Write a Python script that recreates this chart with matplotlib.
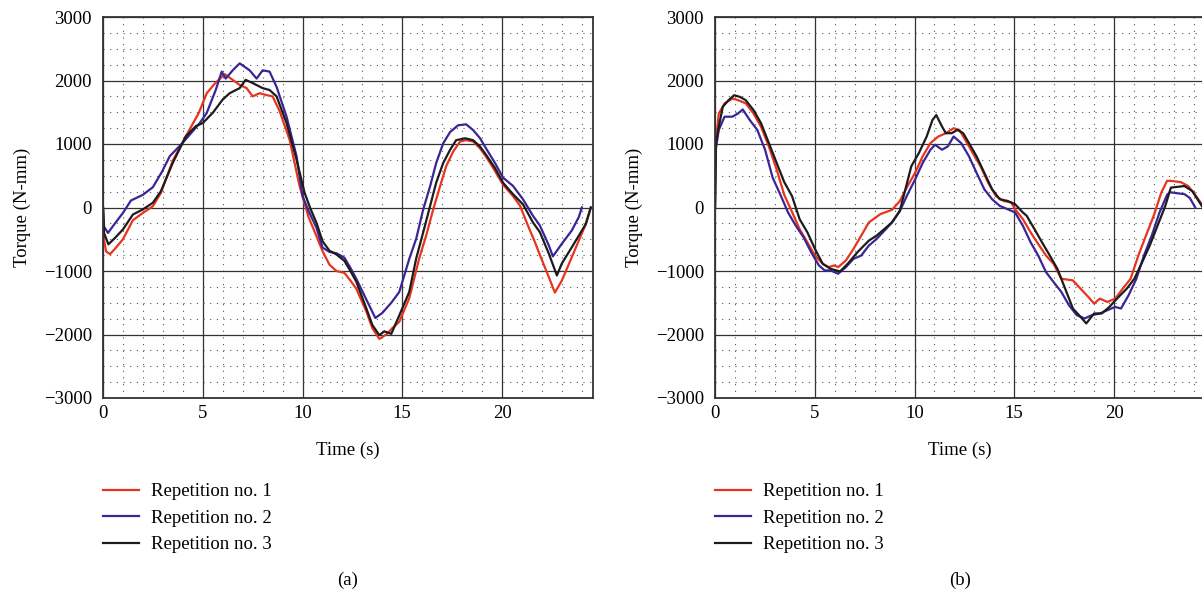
import numpy as np
import matplotlib.pyplot as plt
from matplotlib.ticker import MultipleLocator

plt.rcParams['font.family'] = ['Liberation Serif', 'DejaVu Serif']
plt.rcParams['font.size'] = 13.5

# ---- panel (a) ----
a_t1 = [0, 0.05, 0.15, 0.35, 0.6, 1.0, 1.5, 2.0, 2.5, 2.9, 3.5, 4.15, 4.8, 5.2, 5.6, 6.1, 6.5, 6.85,
        7.2, 7.5, 7.85, 8.2, 8.5, 8.85, 9.35, 9.85, 10.3, 10.7, 11.0, 11.35, 11.7, 12.1, 12.4, 12.7,
        13.2, 13.5, 13.85, 14.2, 14.5, 14.85, 15.35, 15.85, 16.2, 16.55, 16.9, 17.2, 17.55, 17.9,
        18.2, 18.55, 18.9, 19.2, 19.6, 20.05, 20.55, 20.9, 21.3, 21.65, 21.9, 22.35, 22.65, 23.0,
        23.5, 23.85, 24.2, 24.45]
a_v1 = [0, -500, -690, -735, -650, -500, -200, -85, 20, 230, 740, 1120, 1490, 1800, 1950, 2100, 2010, 1930,
        1880, 1750, 1800, 1770, 1750, 1520, 1070, 340, -150, -450, -685, -900, -1000, -1030, -1150, -1280,
        -1640, -1900, -2070, -2000, -1900, -1800, -1430, -800, -440, -30, 340, 650, 880, 1040,
        1060, 1040, 930, 800, 600, 360, 180, 30, -285, -545, -750, -1100, -1340, -1150,
        -780, -520, -260, 0]

a_t2 = [0, 0.05, 0.25, 0.6, 1.0, 1.4, 2.0, 2.5, 2.95, 3.35, 4.0, 4.85, 5.2, 5.65, 5.95, 6.15, 6.5, 6.85,
        7.35, 7.7, 8.0, 8.35, 8.7, 9.2, 9.7, 10.0, 10.3, 10.7, 11.0, 11.35, 11.7, 12.1, 12.4, 12.7,
        13.2, 13.65, 14.0, 14.45, 14.85, 15.35, 15.7, 16.05, 16.4, 16.7, 17.05, 17.4, 17.8, 18.2,
        18.55, 18.9, 19.2, 19.65, 20.05, 20.55, 21.05, 21.55, 21.9, 22.35, 22.55, 23.0, 23.5, 23.85, 24.0]
a_v2 = [0, -300, -400, -250, -85, 110, 200, 320, 560, 810, 1020, 1330, 1490, 1850, 2140, 2030, 2160, 2270,
        2160, 2030, 2160, 2140, 1900, 1430, 810, 180, -50, -320, -630, -700, -720, -790, -950, -1125,
        -1450, -1740, -1660, -1500, -1330, -810, -490, -30, 340, 700, 1010, 1190, 1295, 1310,
        1220, 1090, 930, 700, 470, 340, 130, -130, -285, -600, -770, -570, -360, -150, 0]

a_t3 = [0, 0.05, 0.27, 0.6, 1.0, 1.5, 2.0, 2.5, 2.9, 3.5, 4.15, 4.65, 5.0, 5.5, 6.0, 6.35, 6.85, 7.15,
        7.5, 8.0, 8.35, 8.7, 9.2, 9.7, 10.1, 10.4, 10.7, 11.0, 11.35, 11.7, 12.1, 12.4, 12.7, 13.2,
        13.5, 13.85, 14.1, 14.45, 14.85, 15.35, 15.7, 16.05, 16.4, 16.7, 17.05, 17.4, 17.7, 18.15,
        18.55, 18.9, 19.2, 19.65, 20.05, 20.55, 21.05, 21.55, 21.9, 22.35, 22.75, 23.0, 23.5, 24.2, 24.45]
a_v3 = [0, -400, -580, -480, -345, -110, -30, 75, 255, 705, 1120, 1280, 1330, 1490, 1700, 1800, 1880, 2010,
        1960, 1880, 1850, 1750, 1330, 755, 235, -20, -240, -530, -680, -740, -840, -1000, -1170, -1590,
        -1850, -2010, -1950, -1990, -1700, -1330, -800, -390, 30, 390, 700, 910, 1060, 1090,
        1060, 960, 830, 620, 390, 210, 50, -235, -390, -730, -1070, -880, -625, -260, 0]

# ---- panel (b) ----
b_t1 = [0, 0.03, 0.19, 0.48, 0.87, 1.16, 1.54, 1.93, 2.31, 2.7, 3.09, 3.47, 3.86, 4.24, 4.63, 5.01, 5.4,
        5.69, 5.98, 6.17, 6.56, 6.94, 7.33, 7.71, 8.29, 8.87, 9.26, 9.64, 10.03, 10.41, 10.8, 11.19,
        11.57, 11.96, 12.25, 12.54, 12.92, 13.31, 13.69, 14.08, 14.46, 14.85, 15.04, 15.43, 15.82,
        16.2, 16.59, 16.97, 17.36, 17.94, 18.32, 18.71, 19.0, 19.29, 19.67, 20.06, 20.44, 20.83,
        21.22, 21.6, 21.99, 22.37, 22.66, 22.85, 23.34, 23.72, 24.11, 24.45]
b_v1 = [0, 1000, 1480, 1640, 1716, 1690, 1640, 1480, 1270, 960, 598, 200, -70, -339, -548, -756, -887,
        -939, -913, -939, -835, -652, -443, -235, -104, -37, 100, 330, 546, 806, 1014, 1118,
        1170, 1248, 1222, 1066, 858, 650, 390, 182, 104, 78, -26, -183, -391,
        -574, -756, -887, -1122, -1148, -1278, -1408, -1513, -1435, -1487, -1435, -1278, -1122,
        -756, -443, -130, 235, 420, 420, 400, 338, 182, 26]

b_t2 = [0, 0.03, 0.19, 0.48, 0.87, 1.16, 1.39, 1.74, 2.12, 2.51, 2.89, 3.28, 3.66, 4.05, 4.44, 4.82,
        5.21, 5.5, 5.79, 6.17, 6.56, 6.94, 7.33, 7.71, 8.1, 8.49, 8.87, 9.26, 9.64, 10.03, 10.41, 10.8,
        11.03, 11.38, 11.67, 11.96, 12.34, 12.73, 13.11, 13.5, 13.89, 14.27, 14.66, 15.04, 15.43,
        15.82, 16.2, 16.59, 16.97, 17.36, 17.74, 18.13, 18.52, 18.9, 19.29, 19.67, 20.06, 20.35,
        20.73, 21.12, 21.5, 21.89, 22.28, 22.66, 22.8, 23.53, 23.8, 24.07]
b_v2 = [0, 900, 1222, 1430, 1430, 1482, 1544, 1378, 1222, 910, 470, 200, -78, -287, -470, -704,
        -913, -991, -991, -1043, -939, -809, -756, -600, -496, -365, -235, -60, 200, 442, 702, 910,
        988, 910, 962, 1118, 1014, 806, 546, 286, 130, 26, -26, -78, -287,
        -548, -756, -1017, -1174, -1330, -1539, -1695, -1748, -1695, -1669, -1617, -1565, -1591,
        -1382, -1122, -756, -443, -78, 200, 240, 210, 150, 0]

b_t3 = [0, 0.05, 0.19, 0.39, 0.68, 0.96, 1.25, 1.54, 1.93, 2.31, 2.7, 3.09, 3.47, 3.86, 4.24, 4.63,
        5.01, 5.4, 5.79, 6.27, 6.65, 7.14, 7.71, 8.1, 8.49, 8.87, 9.26, 9.5, 9.84, 10.22, 10.61, 10.9,
        11.09, 11.38, 11.57, 11.86, 12.15, 12.44, 12.73, 13.11, 13.5, 13.89, 14.27, 14.66, 15.04,
        15.43, 15.62, 16.01, 16.39, 16.78, 17.16, 17.55, 17.94, 18.32, 18.61, 19.0, 19.38, 19.77,
        20.15, 20.64, 21.02, 21.41, 21.79, 22.18, 22.57, 22.85, 23.53, 23.92, 24.45]
b_v3 = [0, 1014, 1274, 1586, 1690, 1768, 1742, 1690, 1534, 1326, 1014, 702, 400, 180, -183, -391,
        -652, -887, -965, -1007, -887, -704, -522, -443, -339, -235, -52, 235, 650, 858, 1118, 1378,
        1456, 1274, 1170, 1170, 1222, 1170, 1014, 806, 546, 286, 130, 104, 52,
        -78, -130, -339, -548, -756, -965, -1278, -1591, -1721, -1826, -1669, -1669, -1565,
        -1435, -1278, -1122, -861, -600, -287, 26, 313, 338, 260, 0]

labels = ['Repetition no. 1', 'Repetition no. 2', 'Repetition no. 3']
colors = ['#e8341f', '#3b2596', '#1c1c1c']

W, H = 1202, 597
fig = plt.figure(figsize=(W / 100, H / 100), dpi=100)


def panel(left, series, tag):
    ax = fig.add_axes([left / W, 1 - 398 / H, 490 / W, 381 / H])
    for (t, v), c, lab in zip(series, colors, labels):
        ax.plot(t, v, color=c, lw=1.6, label=lab)
    ax.set_xlim(0, 24.56)
    ax.set_ylim(-3000, 3000)
    ax.xaxis.set_major_locator(MultipleLocator(5))
    ax.xaxis.set_minor_locator(MultipleLocator(1))
    ax.yaxis.set_major_locator(MultipleLocator(1000))
    ax.yaxis.set_minor_locator(MultipleLocator(250))
    ax.grid(which='major', color='#333333', lw=0.9)
    ax.grid(which='minor', color='#555555', lw=0.8, linestyle=(0, (1, 5)))
    ax.set_axisbelow(True)
    ax.tick_params(axis='y', which='both', length=0, pad=8)
    ax.tick_params(axis='x', which='both', length=0, pad=5)
    for s in ax.spines.values():
        s.set_color('#333333')
        s.set_linewidth(1.3)
    ax.set_xlabel('Time (s)', labelpad=14)
    ax.set_ylabel('Torque (N-mm)')
    ax.yaxis.set_label_coords(-(103 - 31) / 490, 0.5)
    ax.legend(loc='upper left', bbox_to_anchor=(left / W, 1 - 483 / H),
              bbox_transform=fig.transFigure, frameon=False, handlelength=1.9,
              handletextpad=0.65, labelspacing=0.5, borderpad=0, borderaxespad=0)
    fig.text((left + 245) / W, 1 - 580 / H, tag, ha='center', va='center')
    return ax


panel(103, [(a_t1, a_v1), (a_t2, a_v2), (a_t3, a_v3)], '(a)')
panel(715, [(b_t1, b_v1), (b_t2, b_v2), (b_t3, b_v3)], '(b)')

fig.savefig('out.png', dpi=100)
